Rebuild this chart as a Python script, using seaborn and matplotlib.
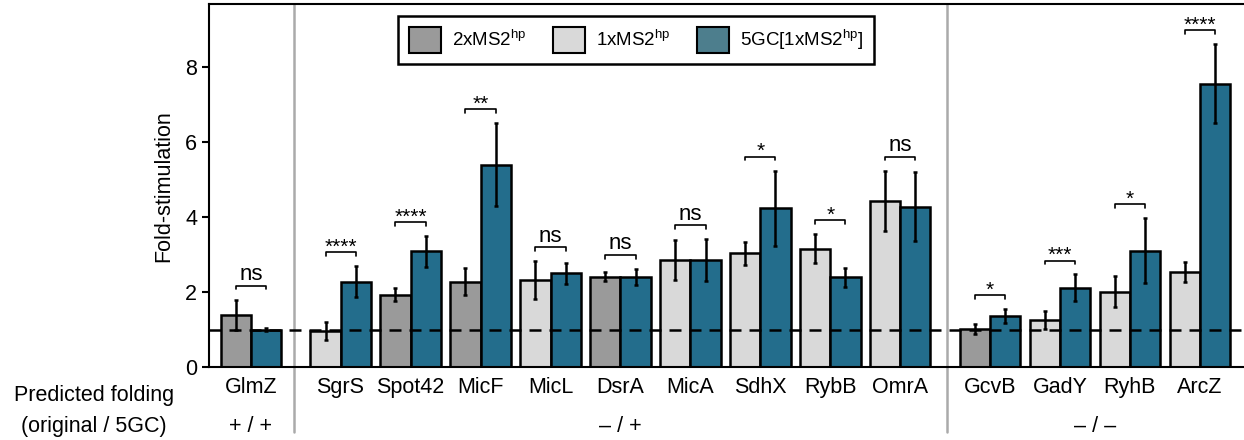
import numpy as np
import pandas as pd
import matplotlib
matplotlib.use("Agg")
import matplotlib.pyplot as plt
from matplotlib.patches import Patch
import seaborn as sns

# sRNAs and their predicted folding group
names = ['GlmZ', 'SgrS', 'Spot42', 'MicF', 'MicL', 'DsrA', 'MicA', 'SdhX',
         'RybB', 'OmrA', 'GcvB', 'GadY', 'RyhB', 'ArcZ']
group = [0, 1, 1, 1, 1, 1, 1, 1, 1, 1, 2, 2, 2, 2]
group_labels = ['+ / +', '\u2013 / +', '\u2013 / \u2013']

# original construct used for the left bar of each pair
orig_construct = ['2x', '1x', '2x', '2x', '1x', '2x', '1x', '1x', '1x', '1x',
                  '2x', '1x', '1x', '1x']
orig_mean = [1.40, 0.96, 1.93, 2.28, 2.32, 2.41, 2.85, 3.03, 3.16, 4.44,
             1.02, 1.25, 2.01, 2.53]
orig_err = [0.40, 0.23, 0.17, 0.36, 0.50, 0.12, 0.53, 0.31, 0.39, 0.80,
            0.14, 0.24, 0.41, 0.26]
gc_mean = [1.00, 2.28, 3.09, 5.40, 2.50, 2.41, 2.85, 4.24, 2.39, 4.28,
           1.36, 2.11, 3.10, 7.56]
gc_err = [0.04, 0.41, 0.41, 1.10, 0.28, 0.21, 0.56, 1.00, 0.25, 0.92,
          0.19, 0.36, 0.87, 1.05]
signif = ['ns', '****', '****', '**', 'ns', 'ns', 'ns', '*', '*', 'ns',
          '*', '***', '*', '****']

colors = {'2x': '#9a9a9a', '1x': '#d9d9d9', '5GC': '#236d8c'}

sns.set_theme(style="ticks")
plt.rcParams['font.family'] = ['Liberation Sans', 'DejaVu Sans']
plt.rcParams['mathtext.fontset'] = 'custom'
plt.rcParams['mathtext.rm'] = 'Liberation Sans'
for key in ['text.color', 'axes.labelcolor', 'xtick.color', 'ytick.color']:
    plt.rcParams[key] = 'black'

# category centres with an extra gap between folding groups
gap = 0.28
centers = np.arange(len(names)) + gap * np.array(group)
half = 0.215

df = pd.DataFrame({
    'pos': np.concatenate([centers - half, centers + half]),
    'value': orig_mean + gc_mean,
    'construct': orig_construct + ['5GC'] * len(names),
})

fig = plt.figure(figsize=(12.44, 4.4), dpi=100)
ax = fig.add_axes([209 / 1244, 73 / 440, 1035 / 1244, 362.5 / 440])

sns.barplot(data=df, x='pos', y='value', hue='construct', palette=colors,
            native_scale=True, dodge=False, width=1.0, errorbar=None,
            saturation=1, edgecolor='black', linewidth=1.8, legend=False,
            ax=ax, zorder=2)

ax.errorbar(centers - half, orig_mean, yerr=orig_err, fmt='none', ecolor='black',
            elinewidth=1.8, capsize=1.5, capthick=1.8, zorder=3)
ax.errorbar(centers + half, gc_mean, yerr=gc_err, fmt='none', ecolor='black',
            elinewidth=1.8, capsize=1.5, capthick=1.8, zorder=3)

ax.axhline(1, color='black', lw=1.8, dashes=(4.8, 3.2), zorder=4)

# significance brackets
for c, m1, e1, m2, e2, s in zip(centers, orig_mean, orig_err, gc_mean, gc_err, signif):
    top = max(m1 + e1, m2 + e2) + 0.37
    ax.plot([c - half, c - half, c + half, c + half], [top - 0.1, top, top, top - 0.1],
            color='black', lw=1.2, zorder=3)
    if s == 'ns':
        ax.text(c, top + 0.02, s, ha='center', va='bottom', fontsize=16)
    else:
        ax.text(c, top - 0.12, s, ha='center', va='bottom', fontsize=15)

ax.set_xlim(-0.6, 14.19)
ax.set_ylim(0, 9.67)
ax.set_yticks([0, 2, 4, 6, 8])
ax.set_xticks(centers)
ax.set_xticklabels(names)
ax.tick_params(axis='x', length=0, labelsize=15.5, pad=7)
ax.tick_params(axis='y', length=5, width=1.5, labelsize=15.5)
ax.set_xlabel('')
ax.set_ylabel('Fold-stimulation', fontsize=15.5, labelpad=8)
for side in ['left', 'top', 'bottom']:
    ax.spines[side].set_linewidth(1.5)
    ax.spines[side].set_color('black')
ax.spines['right'].set_visible(False)

# group separators and group labels
bounds = [(centers[0] + centers[1]) / 2 - 0.02, (centers[9] + centers[10]) / 2 + 0.03]
for b in bounds:
    ax.plot([b, b], [-0.179, 1], color='#aaaaaa', lw=1.8, clip_on=False,
            transform=ax.get_xaxis_transform(), zorder=1)
for g, lab in enumerate(group_labels):
    gc_pos = centers[np.array(group) == g]
    ax.text(gc_pos.mean(), -0.163, lab, ha='center', va='center', fontsize=15.5,
            transform=ax.get_xaxis_transform())

fig.text(94 / 1244, 1 - 395 / 440, 'Predicted folding', ha='center', va='center', fontsize=15.5)
fig.text(94 / 1244, 1 - 426 / 440, '(original / 5GC)', ha='center', va='center', fontsize=15.5)

handles = [Patch(facecolor='#9a9a9a', edgecolor='black', linewidth=1.5),
           Patch(facecolor='#d9d9d9', edgecolor='black', linewidth=1.5),
           Patch(facecolor='#4d7e8d', edgecolor='black', linewidth=1.5)]
labels = [r'2xMS2$^{\mathrm{hp}}$', r'1xMS2$^{\mathrm{hp}}$', r'5GC[1xMS2$^{\mathrm{hp}}$]']
leg = fig.legend(handles, labels, loc='upper center', ncol=3,
                 bbox_to_anchor=(636 / 1244, 1 - 16 / 440), fontsize=13.5,
                 frameon=True, fancybox=False, framealpha=1, edgecolor='black',
                 handlelength=1.7, handleheight=1.7, columnspacing=1.4,
                 handletextpad=0.6, borderpad=0.6, borderaxespad=0)
leg.get_frame().set_linewidth(1.8)

fig.savefig('out.png', dpi=100)
